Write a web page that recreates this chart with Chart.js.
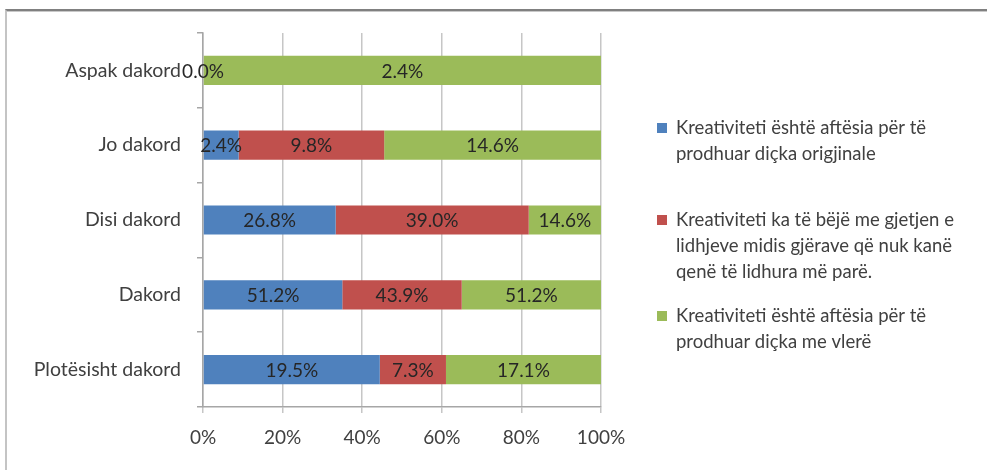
<!DOCTYPE html>
<html>
<head>
<meta charset="utf-8">
<script src="https://cdn.jsdelivr.net/npm/chart.js@4.4.0/dist/chart.umd.min.js"></script>
<style>
  html, body { margin: 0; padding: 0; background: #fff; }
  #wrap { position: relative; width: 987px; height: 470px; }
  #frame {
    position: absolute; left: 5px; top: 9px; right: 0; bottom: 0;
    border-top: 2px solid #808080; border-left: 2px solid #c4c4c4;
    box-shadow: inset 0 1px 0 #c8c8c8;
    pointer-events: none;
  }
  canvas { position: absolute; left: 0; top: 0; }
</style>
</head>
<body>
<div id="wrap">
  <canvas id="chart" width="987" height="470"></canvas>
  <div id="frame"></div>
</div>
<script>
// kategoritë (nga lart poshtë)
const categories = ['Aspak dakord', 'Jo dakord', 'Disi dakord', 'Dakord', 'Plotësisht dakord'];

// vlerat e serive (%)
const originalValues = [0.0, 2.4, 26.8, 51.2, 19.5];
const connectionValues = [null, 9.8, 39.0, 43.9, 7.3];
const valueValues = [2.4, 14.6, 14.6, 51.2, 17.1];

const seriesNames = [
    ['Kreativiteti është aftësia për të', 'prodhuar diçka origjinale'],
    ['Kreativiteti ka të bëjë me gjetjen e', 'lidhjeve midis gjërave që nuk kanë', 'qenë të lidhura më parë.'],
    ['Kreativiteti është aftësia për të', 'prodhuar diçka me vlerë']
];
const seriesColors = ['#4f81bd', '#c0504d', '#9bbb59'];
const xTicks = [0, 20, 40, 60, 80, 100];

const rawSeries = [originalValues, connectionValues, valueValues];
const FONT = 'Lato, "Open Sans", sans-serif';
const TEXT = '#404040';

// 100% e grumbulluar: secila kategori normalizohet
const totals = categories.map((c, i) => rawSeries.reduce((s, arr) => s + (arr[i] || 0), 0));
const percentSeries = rawSeries.map(arr => arr.map((v, i) => v === null ? null : v / totals[i] * 100));

// etiketat mbi shirita
const barLabels = {
    id: 'barLabels',
    afterDatasetsDraw(chart) {
        const ctx = chart.ctx;
        ctx.save();
        ctx.font = '19px ' + FONT;
        ctx.fillStyle = '#262626';
        ctx.textAlign = 'center';
        ctx.textBaseline = 'middle';
        chart.data.datasets.forEach((ds, di) => {
            chart.getDatasetMeta(di).data.forEach((el, i) => {
                const v = rawSeries[di][i];
                if (v === null) return;
                ctx.fillText(v.toFixed(1) + '%', (el.x + el.base) / 2, el.y + 1);
            });
        });
        ctx.restore();
    }
};

// legjenda djathtas
const sideLegend = {
    id: 'sideLegend',
    afterDraw(chart) {
        const ctx = chart.ctx;
        const startY = [128, 220, 316];
        ctx.save();
        ctx.font = '18.5px ' + FONT;
        ctx.textBaseline = 'middle';
        seriesNames.forEach((lines, i) => {
            ctx.fillStyle = seriesColors[i];
            ctx.fillRect(657, startY[i] - 5, 10, 10);
            ctx.fillStyle = TEXT;
            lines.forEach((line, j) => {
                ctx.fillText(line, 676, startY[i] + j * 26);
            });
        });
        ctx.restore();
    }
};

new Chart(document.getElementById('chart').getContext('2d'), {
    type: 'bar',
    data: {
        labels: categories,
        datasets: percentSeries.map((data, i) => ({
            label: seriesNames[i].join(' '),
            data: data,
            backgroundColor: seriesColors[i],
            borderWidth: 0,
            categoryPercentage: 0.39,
            barPercentage: 1
        }))
    },
    options: {
        indexAxis: 'y',
        responsive: false,
        animation: false,
        layout: { padding: { left: 0, right: 386, top: 33, bottom: 0 } },
        plugins: {
            legend: { display: false },
            tooltip: { enabled: false }
        },
        scales: {
            x: {
                stacked: true,
                min: 0,
                max: 100,
                afterBuildTicks(scale) { scale.ticks = xTicks.map(v => ({ value: v })); },
                afterFit(scale) { scale.height = 63; },
                ticks: {
                    callback: v => v + '%',
                    color: TEXT,
                    padding: 13,
                    font: { family: FONT, size: 19 }
                },
                grid: { color: '#c6c6c6', tickLength: 6, lineWidth: 1.5 },
                border: { color: '#a6a6a6', width: 1.5 }
            },
            y: {
                stacked: true,
                afterFit(scale) { scale.width = 203; },
                ticks: {
                    color: TEXT,
                    padding: 16,
                    font: { family: FONT, size: 19.5 }
                },
                grid: { offset: true, drawOnChartArea: false, tickLength: 6, color: '#a6a6a6', lineWidth: 1.5 },
                border: { color: '#a6a6a6', width: 1.5 }
            }
        }
    },
    plugins: [barLabels, sideLegend]
});
</script>
</body>
</html>
